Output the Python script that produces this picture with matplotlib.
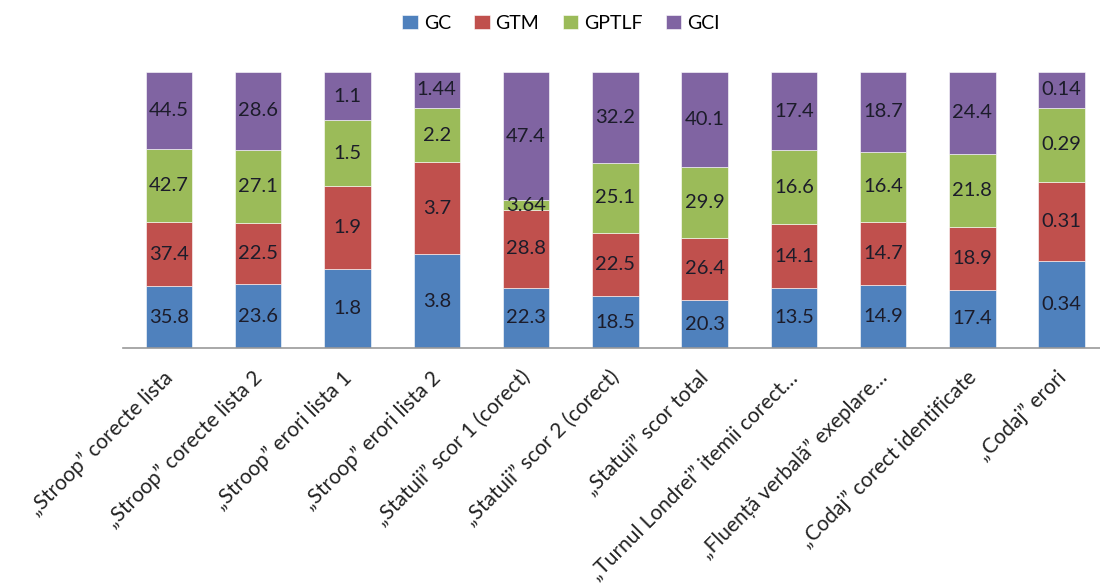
import matplotlib.pyplot as plt
import matplotlib.transforms as mtransforms
import numpy as np

plt.rcParams['font.family'] = ['Lato', 'DejaVu Sans']

categories = ['„Stroop” corecte lista', '„Stroop” corecte lista 2', '„Stroop” erori lista 1',
              '„Stroop” erori lista 2', '„Statuii” scor 1 (corect)', '„Statuii” scor 2 (corect)',
              '„Statuii” scor total', '„Turnul Londrei” itemii corect…', '„Fluență verbală” exeplare…',
              '„Codaj” corect identificate', '„Codaj” erori']
gc = [35.8, 23.6, 1.8, 3.8, 22.3, 18.5, 20.3, 13.5, 14.9, 17.4, 0.34]
gtm = [37.4, 22.5, 1.9, 3.7, 28.8, 22.5, 26.4, 14.1, 14.7, 18.9, 0.31]
gptlf = [42.7, 27.1, 1.5, 2.2, 3.64, 25.1, 29.9, 16.6, 16.4, 21.8, 0.29]
gci = [44.5, 28.6, 1.1, 1.44, 47.4, 32.2, 40.1, 17.4, 18.7, 24.4, 0.14]

series = [('GC', gc, '#4F81BD'), ('GTM', gtm, '#C0504D'),
          ('GPTLF', gptlf, '#9BBB59'), ('GCI', gci, '#8064A2')]

vals = np.array([s[1] for s in series])
totals = vals.sum(axis=0)
x = np.arange(len(categories))

fig = plt.figure(figsize=(11, 5.88), dpi=100)
ax = fig.add_axes([0.112, 0.408, 0.888, 0.4694])

bottom = np.zeros(len(categories))
for name, v, col in series:
    pct = np.array(v) / totals * 100
    ax.bar(x, pct, 0.52, bottom=bottom, color=col, label=name,
           edgecolor='white', linewidth=0.4)
    for xi, b, h, raw in zip(x, bottom, pct, v):
        ax.text(xi, b + h / 2, f'{raw:g}', ha='center', va='center',
                fontsize=14.5, color='#1c1c2a')
    bottom += pct

ax.set_xlim(-0.513, 10.43)
ax.set_ylim(0, 100)
ax.set_yticks([])
ax.set_xticks(x)
ax.set_xticklabels(categories, rotation=45, ha='right', rotation_mode='anchor',
                   fontsize=15, color='#222222')
ax.tick_params(axis='x', length=0, pad=14)
# nudge labels slightly left so they end under the bar centres
shift = mtransforms.ScaledTranslation(-6 / 100, 0, fig.dpi_scale_trans)
for lbl in ax.get_xticklabels():
    lbl.set_transform(lbl.get_transform() + shift)
for s in ['top', 'right', 'left']:
    ax.spines[s].set_visible(False)
ax.spines['bottom'].set_color('#999999')
ax.spines['bottom'].set_linewidth(1.2)

fig.legend(loc='upper center', bbox_to_anchor=(0.51, 1.005), ncol=4, frameon=False,
           fontsize=14, handlelength=0.8, handleheight=0.8, handletextpad=0.3,
           columnspacing=1.2)

fig.savefig('out.png', dpi=100)
